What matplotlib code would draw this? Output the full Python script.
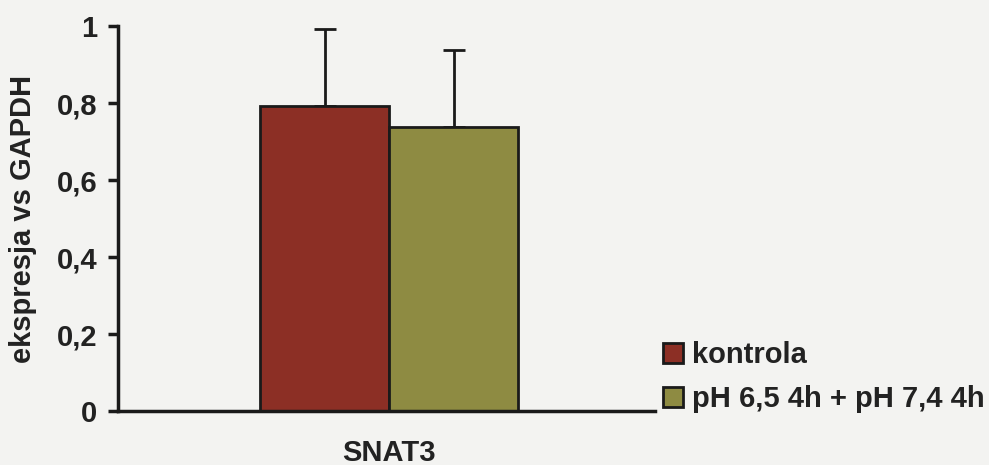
import numpy as np
import matplotlib.pyplot as plt

# expression data (relative to GAPDH)
genes = ["SNAT3"]
groups = ["kontrola", "pH 6,5 4h + pH 7,4 4h"]
means = [0.792, 0.738]
sd = [0.200, 0.200]
colors = ["#8c2f25", "#8e8b42"]
yticks = [0, 0.2, 0.4, 0.6, 0.8, 1]
ytick_labels = ["0", "0,2", "0,4", "0,6", "0,8", "1"]

plt.rcParams['font.family'] = ['Liberation Sans', 'DejaVu Sans']
plt.rcParams['font.weight'] = 'bold'

fs = 21
txt = "#222222"
bg = "#f3f3f1"
fig = plt.figure(figsize=(9.89, 4.65), dpi=100, facecolor=bg)
ax = fig.add_axes([0.1193, 0.116, 0.543, 0.828], facecolor=bg)

width = 0.48
x = np.arange(len(genes))
for i, (name, m, s, c) in enumerate(zip(groups, means, sd, colors)):
    pos = x + (i - 0.5) * width
    ax.bar(pos, m, width, color=c, edgecolor="#1a1a1a", linewidth=2, label=name, zorder=2)
    ax.errorbar(pos, m, yerr=[[0], [s]], fmt="none", ecolor="#1a1a1a",
                elinewidth=2, capsize=8, capthick=2, zorder=1)

ax.set_xlim(-1.01, 0.99)
ax.set_ylim(0, 1)
ax.set_yticks(yticks)
ax.set_yticklabels(ytick_labels, fontsize=fs, fontweight='bold', color=txt)
ax.set_xticks(x)
ax.set_xticklabels(genes, fontsize=fs, fontweight='bold', color=txt)
ax.tick_params(axis='x', length=0, pad=20)
ax.tick_params(axis='y', direction='out', length=7, width=2.5, pad=8, color="#1a1a1a")
ax.set_ylabel("ekspresja vs GAPDH", fontsize=fs, fontweight='bold', color=txt, labelpad=14)

for side in ("top", "right"):
    ax.spines[side].set_visible(False)
for side in ("left", "bottom"):
    ax.spines[side].set_linewidth(2.5)
    ax.spines[side].set_color("#1a1a1a")

leg = fig.legend(loc="lower left", bbox_to_anchor=(0.670, 0.111), frameon=False,
                 borderpad=0, borderaxespad=0, handlelength=0.69, handleheight=0.69,
                 handletextpad=0.3, labelspacing=0.55, prop={'weight': 'bold', 'size': fs})
for t in leg.get_texts():
    t.set_color(txt)
for h in leg.legend_handles:
    h.set_linewidth(2)

fig.savefig("out.png", dpi=100, facecolor=bg)
